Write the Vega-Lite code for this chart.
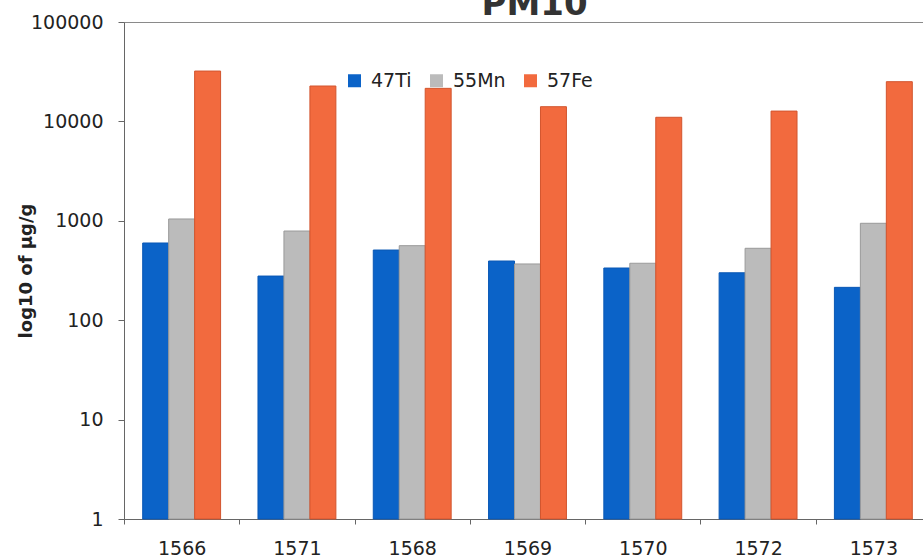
{
  "$schema": "https://vega.github.io/schema/vega-lite/v6.json",
  "autosize": "none",
  "width": 799,
  "height": 497,
  "padding": {"left": 124, "top": 22, "right": 0, "bottom": 41},
  "background": "white",
  "title": {
    "text": "PM10",
    "font": "DejaVu Sans",
    "fontSize": 34,
    "fontWeight": "bold",
    "color": "#333333",
    "anchor": "middle",
    "frame": "group",
    "offset": -9,
    "dx": 11
  },
  "config": {
    "view": {"stroke": "#8a8a8a", "strokeWidth": 1},
    "axis": {
      "labelFont": "DejaVu Sans",
      "labelFontSize": 19,
      "labelColor": "#222222",
      "domainColor": "#666666",
      "tickColor": "#666666",
      "grid": false
    }
  },
  "data": {
    "values": [
      {"site": "1566", "element": "47Ti", "value": 598},
      {"site": "1566", "element": "55Mn", "value": 1043},
      {"site": "1566", "element": "57Fe", "value": 32100},
      {"site": "1571", "element": "47Ti", "value": 278},
      {"site": "1571", "element": "55Mn", "value": 789},
      {"site": "1571", "element": "57Fe", "value": 22700},
      {"site": "1568", "element": "47Ti", "value": 508},
      {"site": "1568", "element": "55Mn", "value": 562},
      {"site": "1568", "element": "57Fe", "value": 21500},
      {"site": "1569", "element": "47Ti", "value": 394},
      {"site": "1569", "element": "55Mn", "value": 368},
      {"site": "1569", "element": "57Fe", "value": 14060},
      {"site": "1570", "element": "47Ti", "value": 335},
      {"site": "1570", "element": "55Mn", "value": 374},
      {"site": "1570", "element": "57Fe", "value": 11000},
      {"site": "1572", "element": "47Ti", "value": 300},
      {"site": "1572", "element": "55Mn", "value": 529},
      {"site": "1572", "element": "57Fe", "value": 12700},
      {"site": "1573", "element": "47Ti", "value": 214},
      {"site": "1573", "element": "55Mn", "value": 944},
      {"site": "1573", "element": "57Fe", "value": 25100}
    ]
  },
  "mark": {"type": "bar", "strokeWidth": 1},
  "encoding": {
    "x": {
      "field": "site",
      "type": "nominal",
      "sort": null,
      "scale": {"range": [0, 807], "paddingInner": 0, "paddingOuter": 0},
      "axis": {
        "title": null,
        "labelAngle": 0,
        "tickBand": "extent",
        "tickSize": 5,
        "labelPadding": 15
      }
    },
    "xOffset": {"field": "element", "type": "nominal", "scale": {"paddingInner": 0, "paddingOuter": 0.72}},
    "y": {
      "field": "value",
      "type": "quantitative",
      "stack": null,
      "scale": {"type": "log", "domain": [1, 100000], "nice": false},
      "axis": {
        "title": "log10 of µg/g",
        "titleFont": "DejaVu Sans",
        "titleFontSize": 18,
        "titleFontWeight": "bold",
        "titleColor": "#222222",
        "titleAngle": -90,
        "titleX": -98,
        "titleY": 248.5,
        "titleAlign": "center",
        "titleBaseline": "middle",
        "values": [1, 10, 100, 1000, 10000, 100000],
        "format": "d",
        "tickSize": 6,
        "labelPadding": 15
      }
    },
    "y2": {"datum": 1},
    "color": {
      "field": "element",
      "type": "nominal",
      "scale": {"domain": ["47Ti", "55Mn", "57Fe"], "range": ["#0B63C8", "#BBBBBB", "#F26A3E"]},
      "legend": {
        "title": null,
        "orient": "none",
        "direction": "horizontal",
        "legendX": 221,
        "legendY": 49,
        "symbolType": "square",
        "symbolSize": 169,
        "symbolStrokeWidth": 0,
        "labelFont": "DejaVu Sans",
        "labelFontSize": 19,
        "labelColor": "#222222",
        "labelOffset": 7,
        "columnPadding": 15
      }
    },
    "stroke": {
      "field": "element",
      "type": "nominal",
      "scale": {"domain": ["47Ti", "55Mn", "57Fe"], "range": ["#0A58B5", "#9A9A9A", "#D2552E"]},
      "legend": null
    }
  }
}
